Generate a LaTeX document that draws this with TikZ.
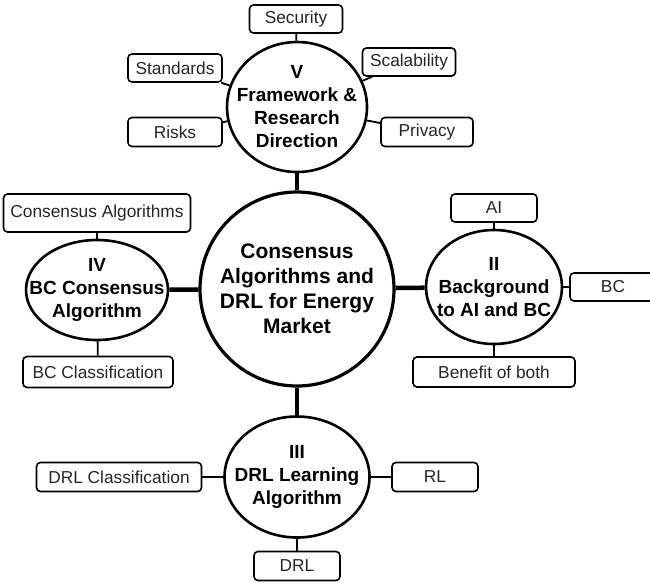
\documentclass[tikz,border=0pt]{standalone}
\usepackage{fontspec}
\setmainfont{Liberation Sans}
\usetikzlibrary{shapes.geometric}
\begin{document}
\begin{tikzpicture}[x=1pt,y=-1pt,
  topic/.style={draw, line width=2.6pt, ellipse, inner sep=0pt, fill=white},
  hub/.style={draw, line width=3.2pt, circle, inner sep=0pt, fill=white},
  title/.style={font=\fontsize{19}{23}\selectfont\bfseries, align=center, inner sep=0pt},
  hubtitle/.style={font=\fontsize{21}{25}\selectfont\bfseries, align=center, inner sep=0pt},
  leaf/.style={draw, line width=1.6pt, rounded corners=4pt, inner sep=0pt, fill=white,
    font=\fontsize{17.3}{20}\selectfont, text=black!85},
  thinlink/.style={line width=1.8pt},
  thicklink/.style={line width=4.5pt}]
\useasboundingbox (0,0) rectangle (650,584);

% hub
\node[hub, minimum size=194pt] (c) at (297,289) {};
\node[hubtitle] (ct) at (c) {Consensus\\Algorithms and\\DRL for Energy\\Market};

% topics
\node[topic, minimum width=140pt, minimum height=130pt] (v) at (297,107) {};
\node[title] (vt) at (v) {V\\Framework \&\\Research\\Direction};
\node[topic, minimum width=142pt, minimum height=100pt] (iv) at (97,290) {};
\node[title] (ivt) at (iv) {IV\\BC Consensus\\Algorithm};
\node[topic, minimum width=136pt, minimum height=114pt] (ii) at (494,287) {};
\node[title] (iit) at (ii) {II\\Background\\to AI and BC};
\node[topic, minimum width=145pt, minimum height=121pt] (iii) at (297,477) {};
\node[title] (iiit) at (iii) {III\\DRL Learning\\Algorithm};

% leaves
\node[leaf, minimum width=93pt, minimum height=28pt] (sec) at (296,19) {Security};
\node[leaf, minimum width=93pt, minimum height=28pt] (sca) at (409,62) {Scalability};
\node[leaf, minimum width=94pt, minimum height=28pt] (sta) at (175,68) {Standards};
\node[leaf, minimum width=94pt, minimum height=29pt] (ris) at (175,132) {Risks};
\node[leaf, minimum width=92pt, minimum height=29pt] (pri) at (427,132) {Privacy};
\node[leaf, minimum width=187pt, minimum height=38pt] (ca) at (97,213) {Consensus Algorithms};
\node[leaf, minimum width=150pt, minimum height=31pt] (bcc) at (98,372) {BC Classification};
\node[leaf, minimum width=86pt, minimum height=28pt] (ai) at (494,208) {AI};
\node[leaf, minimum width=86pt, minimum height=28pt] (bc) at (613,287) {BC};
\node[leaf, minimum width=162pt, minimum height=30pt] (ben) at (494,372) {Benefit of both};
\node[leaf, minimum width=165pt, minimum height=29pt] (drlc) at (119,477) {DRL Classification};
\node[leaf, minimum width=86pt, minimum height=29pt] (rl) at (435,477) {RL};
\node[leaf, minimum width=86pt, minimum height=29pt] (drl) at (297,566) {DRL};

% links
\draw[thicklink] (c) -- (v);
\draw[thicklink] (c) -- (iv);
\draw[thicklink] (c) -- (ii);
\draw[thicklink] (c) -- (iii);

\draw[thinlink] (sec) -- (v);
\draw[thinlink] (sca) -- (v);
\draw[thinlink] (sta) -- (v);
\draw[thinlink] (ris) -- (v);
\draw[thinlink] (pri) -- (v);
\draw[thinlink] (ca) -- (iv);
\draw[thinlink] (bcc) -- (iv);
\draw[thinlink] (ai) -- (ii);
\draw[thinlink] (bc) -- (ii);
\draw[thinlink] (ben) -- (ii);
\draw[thinlink] (drlc) -- (iii);
\draw[thinlink] (rl) -- (iii);
\draw[thinlink] (drl) -- (iii);
\end{tikzpicture}
\end{document}
